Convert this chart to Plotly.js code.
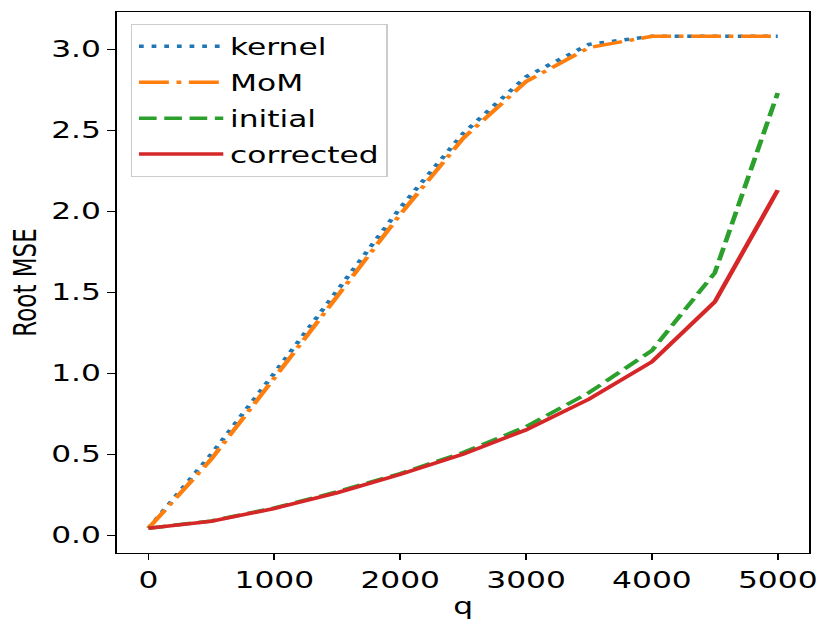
<!DOCTYPE html>
<html>
<head>
<meta charset="utf-8">
<script src="https://cdn.plot.ly/plotly-3.0.1.min.js"></script>
<style>
  html, body { margin: 0; padding: 0; background: #fff; overflow: hidden; }
  /* the reference is stretched sideways, so draw narrow and widen */
  #chart { width: 611px; height: 631px; transform: scaleX(1.36); transform-origin: 0 0; }
</style>
</head>
<body>
<div id="chart"></div>
<script>
// ----- data -----
const q = [0, 500, 1000, 1500, 2000, 2500, 3000, 3500, 4000, 4500, 5000];
const kernel = [0.043, 0.50, 1.00, 1.51, 2.02, 2.48, 2.83, 3.03, 3.08, 3.08, 3.08];
const mom = [0.043, 0.47, 0.97, 1.48, 1.98, 2.45, 2.80, 3.01, 3.08, 3.08, 3.08];
const initial = [0.043, 0.088, 0.168, 0.268, 0.38, 0.51, 0.67, 0.88, 1.14, 1.62, 2.73];
const corrected = [0.043, 0.086, 0.165, 0.262, 0.375, 0.50, 0.65, 0.84, 1.07, 1.44, 2.13];

const LW = 3.5;
const font = { family: '"DejaVu Sans", sans-serif', color: '#000', size: 23 };

const series = [
    { name: 'kernel', y: kernel, color: '#1f77b4', dash: '3.5px,5.8px' },
    { name: 'MoM', y: mom, color: '#ff7f0e', dash: '22px,5.6px,3.5px,5.6px' },
    { name: 'initial', y: initial, color: '#2ca02c', dash: '13px,5.6px' },
    { name: 'corrected', y: corrected, color: '#d62728', dash: 'solid' },
];

const traces = series.map(s => ({
    type: 'scatter', mode: 'lines', name: s.name, x: q, y: s.y,
    legendgroup: s.name,
    line: { color: s.color, width: LW, dash: s.dash },
    hoverinfo: 'skip',
}));

const axis = {
    showline: true, mirror: true, linecolor: '#000', linewidth: 1.2,
    ticks: 'outside', ticklen: 6, tickwidth: 1.2, tickcolor: '#000',
    showgrid: false, zeroline: false, tickfont: font,
};

Plotly.newPlot('chart', traces, {
    width: 611, height: 631,
    paper_bgcolor: '#fff', plot_bgcolor: '#fff',
    font: font,
    margin: { l: 86, r: 16, t: 12, b: 78 },
    xaxis: { ...axis, range: [-250, 5250], dtick: 1000, tick0: 0, tickformat: 'd',
        title: { text: 'q', font: font, standoff: 6 } },
    yaxis: { ...axis, range: [-0.11, 3.23], dtick: 0.5, tick0: 0, tickformat: '.1f',
        title: { text: 'Root MSE', font: font, standoff: 4 } },
    showlegend: true,
    legend: {
        x: 0.02, y: 0.978, xanchor: 'left', yanchor: 'top',
        bgcolor: 'rgba(255,255,255,0.8)', bordercolor: '#cccccc', borderwidth: 1,
        font: font, itemwidth: 62, tracegroupgap: 3, traceorder: 'grouped',
    },
}, { displayModeBar: false, staticPlot: true });
</script>
</body>
</html>
